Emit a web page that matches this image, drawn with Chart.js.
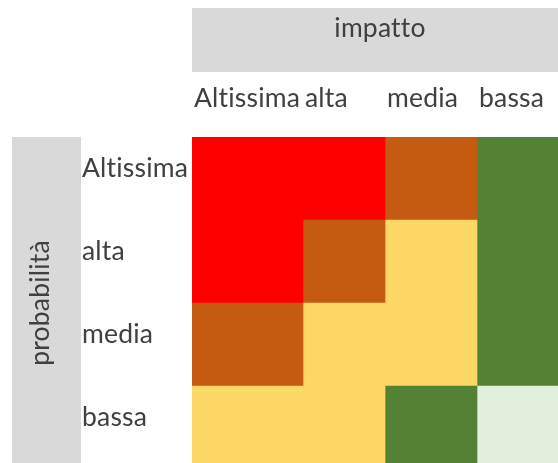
<!DOCTYPE html>
<html>
<head>
<meta charset="utf-8">
<script src="https://cdn.jsdelivr.net/npm/chart.js@4/dist/chart.umd.min.js"></script>
<style>
  html, body { margin: 0; padding: 0; background: #fff; overflow: hidden; }
  canvas { display: block; }
</style>
</head>
<body>
<canvas id="grafico" width="558" height="469"></canvas>
<script>
    // Dati della matrice di rischio
    const righe = ['Altissima', 'alta', 'media', 'bassa'];      // probabilità
    const colonne = ['Altissima', 'alta', 'media', 'bassa'];    // impatto
    const larghezzeColonne = [111, 82, 92, 81];
    // livello di rischio per ogni cella (riga x colonna)
    const livelli = [
        [4, 4, 3, 1],
        [4, 3, 2, 1],
        [3, 2, 2, 1],
        [2, 2, 1, 0]
    ];
    const coloriLivello = ['#E2EFDA', '#548235', '#FDD866', '#C55A11', '#FF0000'];

    const titoloX = 'impatto';
    const titoloY = 'probabilità';
    const FONT = '26.5px Lato, "Open Sans", sans-serif';
    const TESTO = '#404040';

    // Un dataset per colonna, impilati in orizzontale
    const datasets = colonne.map((col, j) => ({
        label: col,
        data: righe.map(() => larghezzeColonne[j]),
        backgroundColor: righe.map((_, i) => coloriLivello[livelli[i][j]]),
        borderWidth: 0,
        barPercentage: 1,
        categoryPercentage: 1
    }));

    // Plugin per le etichette e le fasce grigie
    const etichette = {
        id: 'etichette',
        beforeDraw(chart) {
            const ctx = chart.ctx;
            const area = chart.chartArea;
            ctx.save();
            ctx.fillStyle = '#D9D9D9';
            ctx.fillRect(area.left, 8, area.right - area.left, 64);
            ctx.fillRect(12, area.top, 69, area.bottom - area.top);
            ctx.restore();
        },
        afterDraw(chart) {
            const ctx = chart.ctx;
            const area = chart.chartArea;
            const x = chart.scales.x;
            const y = chart.scales.y;
            ctx.save();
            ctx.font = FONT;
            ctx.letterSpacing = '0.2px'; // niente legature (tt)
            ctx.fillStyle = TESTO;
            ctx.textBaseline = 'alphabetic';

            // titolo impatto
            ctx.textAlign = 'center';
            ctx.fillText(titoloX, (area.left + area.right) / 2 + 5, 37);

            // etichette colonne
            ctx.textAlign = 'left';
            let inizio = 0;
            colonne.forEach((c, j) => {
                ctx.fillText(c, x.getPixelForValue(inizio) + 2, 107);
                inizio += larghezzeColonne[j];
            });

            // etichette righe
            righe.forEach((r, i) => {
                ctx.fillText(r, 82, y.getPixelForValue(i) - 2);
            });

            // titolo probabilità (verticale)
            ctx.translate(49, 303);
            ctx.rotate(-Math.PI / 2);
            ctx.textAlign = 'center';
            ctx.fillText(titoloY, 0, 0);
            ctx.restore();
        }
    };

    new Chart(document.getElementById('grafico').getContext('2d'), {
        type: 'bar',
        data: { labels: righe, datasets: datasets },
        options: {
            indexAxis: 'y',
            responsive: false,
            animation: false,
            layout: { padding: { left: 192, top: 137, right: 0, bottom: 0 } },
            plugins: { legend: { display: false }, tooltip: { enabled: false } },
            scales: {
                x: { stacked: true, display: false, min: 0, max: 366 },
                y: { stacked: true, display: false }
            }
        },
        plugins: [etichette]
    });
</script>
</body>
</html>
